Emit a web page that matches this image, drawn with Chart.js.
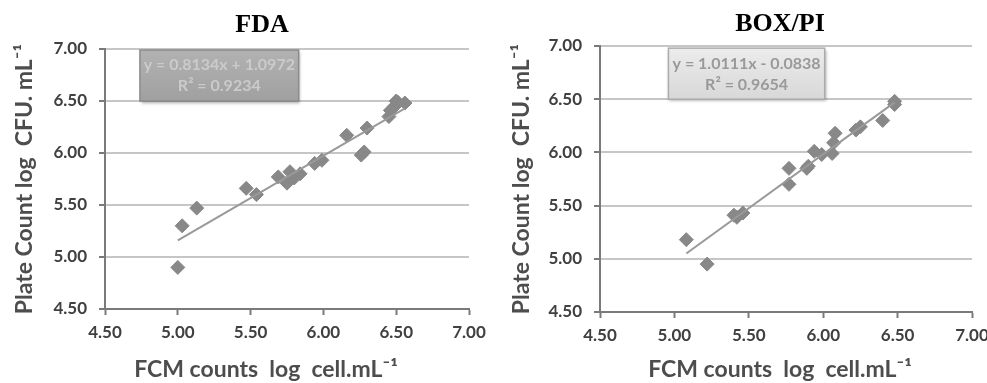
<!DOCTYPE html>
<html>
<head>
<meta charset="utf-8">
<script src="https://cdn.jsdelivr.net/npm/chart.js@4.4.0/dist/chart.umd.min.js"></script>
<style>
    html, body { margin: 0; padding: 0; background: #fff; overflow: hidden; }
    #painel { position: relative; width: 987px; height: 383px; }
    canvas { position: absolute; top: 0; }
</style>
</head>
<body>
<div id="painel">
    <canvas id="graficoFda" width="490" height="383" style="left:0"></canvas>
    <canvas id="graficoBox" width="497" height="383" style="left:490px"></canvas>
</div>
<script>
// marcas dos eixos (iguais nos dois graficos)
var ticksEixo = [4.50, 5.00, 5.50, 6.00, 6.50, 7.00];
var tituloX = 'FCM counts  log  cell.mL⁻¹';
var tituloY = 'Plate Count log  CFU. mL⁻¹';

// FDA
var fdaX = [5.00, 5.03, 5.13, 5.47, 5.54, 5.69, 5.75, 5.77, 5.80, 5.84, 5.94, 5.99, 6.16, 6.26, 6.28, 6.30, 6.45, 6.46, 6.49, 6.51, 6.50, 6.56];
var fdaY = [4.90, 5.30, 5.47, 5.66, 5.60, 5.77, 5.71, 5.82, 5.76, 5.80, 5.90, 5.93, 6.17, 5.98, 6.01, 6.24, 6.35, 6.41, 6.45, 6.49, 6.50, 6.48];
var fdaRetaX = [5.00, 6.56];
var fdaRetaY = [5.16, 6.43];
var fdaEquacao = ['y = 0.8134x + 1.0972', 'R² = 0.9234'];

// BOX/PI
var boxX = [5.08, 5.22, 5.40, 5.42, 5.46, 5.77, 5.77, 5.89, 5.90, 5.94, 5.99, 6.06, 6.07, 6.08, 6.22, 6.25, 6.40, 6.48, 6.48];
var boxY = [5.18, 4.95, 5.41, 5.39, 5.43, 5.70, 5.85, 5.85, 5.87, 6.01, 5.98, 5.99, 6.09, 6.18, 6.21, 6.24, 6.30, 6.45, 6.48];
var boxRetaX = [5.08, 6.48];
var boxRetaY = [5.05, 6.47];
var boxEquacao = ['y = 1.0111x - 0.0838', 'R² = 0.9654'];

function juntaPontos(xs, ys) {
    var pontos = [];
    for (var i = 0; i < xs.length; i++) {
        pontos.push({ x: xs[i], y: ys[i] });
    }
    return pontos;
}

// caixa com a equacao da reta (estilo excel)
var caixaEquacao = {
    id: 'caixaEquacao',
    afterDatasetsDraw: function (chart, args, op) {
        var ctx = chart.ctx;
        var sx = chart.scales.x, sy = chart.scales.y;
        var x0 = sx.getPixelForValue(op.de[0]), x1 = sx.getPixelForValue(op.ate[0]);
        var y0 = sy.getPixelForValue(op.de[1]), y1 = sy.getPixelForValue(op.ate[1]);
        ctx.save();
        ctx.shadowColor = 'rgba(0,0,0,0.35)';
        ctx.shadowBlur = 3;
        ctx.shadowOffsetX = 1;
        ctx.shadowOffsetY = 2;
        var grad = ctx.createLinearGradient(0, y0, 0, y1);
        grad.addColorStop(0, op.corTopo);
        grad.addColorStop(1, op.corBase);
        ctx.fillStyle = grad;
        ctx.fillRect(x0, y0, x1 - x0, y1 - y0);
        ctx.shadowColor = 'transparent';
        ctx.strokeStyle = op.borda;
        ctx.lineWidth = 1.5;
        ctx.strokeRect(x0, y0, x1 - x0, y1 - y0);
        ctx.fillStyle = op.corTexto;
        ctx.font = 'bold 16px Lato';
        ctx.textAlign = 'center';
        ctx.textBaseline = 'middle';
        var cx = (x0 + x1) / 2, h = y1 - y0;
        ctx.fillText(op.linhas[0], cx, y0 + h * 0.30);
        ctx.fillText(op.linhas[1], cx, y0 + h * 0.71);
        ctx.restore();
    }
};

// titulo de cima e titulo do eixo x (centrados como no original)
var titulos = {
    id: 'titulos',
    afterDraw: function (chart, args, op) {
        var ctx = chart.ctx;
        ctx.save();
        ctx.textAlign = 'center';
        ctx.textBaseline = 'middle';
        ctx.fillStyle = '#000';
        ctx.font = 'bold 26px "Liberation Serif"';
        ctx.fillText(op.titulo, op.centro, op.yTitulo);
        ctx.fillStyle = '#4d4d4d';
        ctx.font = 'bold 23px Lato';
        ctx.fillText(tituloX, op.centroX, op.yTituloX);
        ctx.restore();
    }
};

function fazGrafico(id, xs, ys, retaX, retaY, caixa, aj) {
    return new Chart(document.getElementById(id), {
        type: 'scatter',
        data: {
            datasets: [
                {
                    data: juntaPontos(retaX, retaY),
                    type: 'line',
                    borderColor: '#999999',
                    borderWidth: 2,
                    pointRadius: 0,
                    order: 0
                },
                {
                    data: juntaPontos(xs, ys),
                    pointStyle: 'rectRot',
                    pointRadius: 7,
                    backgroundColor: '#888888',
                    borderColor: '#888888',
                    borderWidth: 1,
                    order: 1
                }
            ]
        },
        plugins: [caixaEquacao, titulos],
        options: {
            responsive: false,
            animation: false,
            devicePixelRatio: 1,
            layout: { padding: { left: 0, right: aj.padDir, top: aj.padTopo, bottom: 0 } },
            plugins: {
                legend: { display: false },
                tooltip: { enabled: false },
                caixaEquacao: caixa,
                titulos: aj.titulos
            },
            scales: {
                x: {
                    type: 'linear',
                    min: ticksEixo[0],
                    max: ticksEixo[ticksEixo.length - 1],
                    afterBuildTicks: function (s) { s.ticks = ticksEixo.map(function (v) { return { value: v }; }); },
                    afterFit: function (s) { s.height = aj.altX; s.paddingLeft = 0; s.paddingRight = 0; },
                    border: { display: true, color: '#7a7a7a', width: 2 },
                    grid: { drawOnChartArea: false, drawTicks: true, tickLength: 6, tickColor: '#7a7a7a', tickWidth: 2 },
                    ticks: {
                        color: '#404040',
                        font: { family: 'Lato', size: 17, weight: 'bold' },
                        padding: 7,
                        maxRotation: 0,
                        callback: function (v) { return Number(v).toFixed(2); }
                    }
                },
                y: {
                    type: 'linear',
                    min: ticksEixo[0],
                    max: ticksEixo[ticksEixo.length - 1],
                    afterBuildTicks: function (s) { s.ticks = ticksEixo.map(function (v) { return { value: v }; }); },
                    afterFit: function (s) { s.width = aj.largY; s.paddingTop = 0; s.paddingBottom = 0; },
                    border: { display: true, color: '#7a7a7a', width: 2 },
                    grid: { color: '#c6c6c6', lineWidth: 2, drawTicks: true, tickLength: 6, tickColor: '#7a7a7a', tickWidth: 2 },
                    ticks: {
                        color: '#404040',
                        font: { family: 'Lato', size: 17, weight: 'bold' },
                        padding: 12,
                        callback: function (v) { return Number(v).toFixed(2); }
                    },
                    title: {
                        display: true,
                        text: tituloY,
                        color: '#4d4d4d',
                        font: { family: 'Lato', size: 23, weight: 'bold' },
                        padding: { top: aj.padTituloY, bottom: 0 }
                    }
                }
            }
        }
    });
}

fazGrafico('graficoFda', fdaX, fdaY, fdaRetaX, fdaRetaY, {
    de: [4.74, 6.99], ate: [5.83, 6.50], linhas: fdaEquacao,
    corTopo: '#b2b2b2', corBase: '#a0a0a0', borda: '#8c8c8c', corTexto: '#cbcbcb'
}, {
    padDir: 21, padTopo: 49, largY: 105, altX: 74, padTituloY: 11,
    titulos: { titulo: 'FDA', centro: 262, yTitulo: 25, centroX: 266, yTituloX: 370 }
});

fazGrafico('graficoBox', boxX, boxY, boxRetaX, boxRetaY, {
    de: [4.96, 6.98], ate: [6.01, 6.50], linhas: boxEquacao,
    corTopo: '#ececec', corBase: '#d8d8d8', borda: '#acacac', corTexto: '#999999'
}, {
    padDir: 15, padTopo: 46, largY: 110, altX: 71, padTituloY: 18,
    titulos: { titulo: 'BOX/PI', centro: 290, yTitulo: 24, centroX: 290, yTituloX: 370 }
});
</script>
</body>
</html>
